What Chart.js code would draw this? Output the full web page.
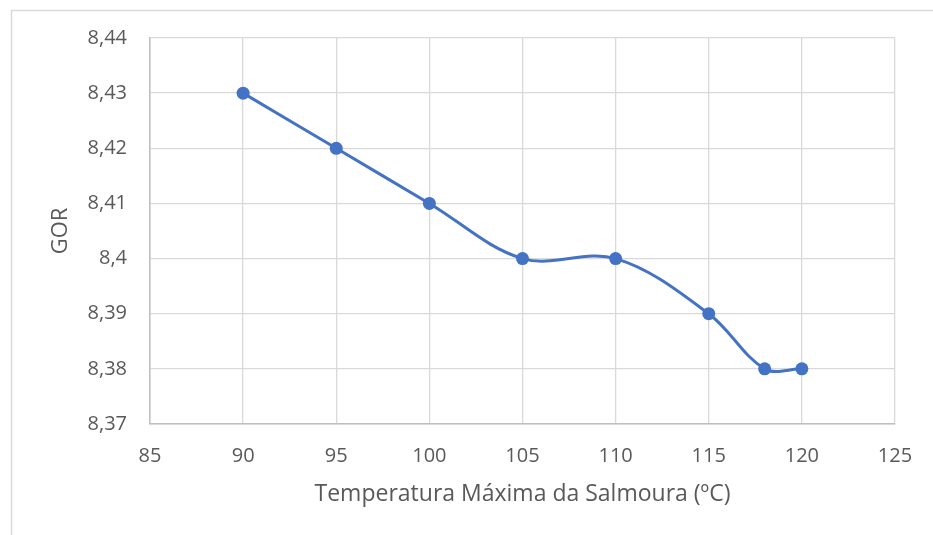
<!DOCTYPE html>
<html>
<head>
<meta charset="utf-8">
<script src="https://cdn.jsdelivr.net/npm/chart.js@4.4.0/dist/chart.umd.min.js"></script>
<style>
  html, body { margin: 0; padding: 0; background: #ffffff; }
  #wrap { position: relative; width: 933px; height: 535px; }
</style>
</head>
<body>
<div id="wrap"><canvas id="chart" width="933" height="535"></canvas></div>
<script>
// Temperatura máxima da salmoura (ºC) and the resulting GOR
const temperaturas = [90, 95, 100, 105, 110, 115, 118, 120];
const gor = [8.43, 8.42, 8.41, 8.40, 8.40, 8.39, 8.38, 8.38];

const xTitulo = 'Temperatura Máxima da Salmoura (ºC)';
const yTitulo = 'GOR';
const xLimites = [85, 125];
const yLimites = [8.37, 8.44];

const azul = '#4472C4';
const texto = '#595959';
const grade = '#d9d9d9';
const eixo = '#bfbfbf';
const familia = "'Open Sans', 'Noto Sans', sans-serif";
const fonteTicks = { family: familia, size: 20 };
const fonteTituloX = { family: familia, size: 23 };
const fonteTituloY = { family: familia, size: 22 };

// Comma decimal separator, no trailing zeros (8,4 instead of 8,40)
function virgula(v) {
  return String(Number(v.toFixed(2))).replace('.', ',');
}

// Light frame of the chart area (left and top edges visible)
const moldura = {
  id: 'moldura',
  beforeDraw(chart) {
    const ctx = chart.ctx;
    ctx.save();
    ctx.strokeStyle = '#d9d9d9';
    ctx.lineWidth = 1.5;
    ctx.strokeRect(11.5, 10.5, 1000, 600);
    ctx.restore();
  }
};

new Chart(document.getElementById('chart'), {
  type: 'line',
  data: {
    datasets: [{
      data: temperaturas.map((t, i) => ({ x: t, y: gor[i] })),
      borderColor: azul,
      backgroundColor: azul,
      borderWidth: 3,
      pointRadius: 6.5,
      pointHoverRadius: 6.5,
      pointBorderWidth: 0,
      tension: 0.35,
      fill: false
    }]
  },
  options: {
    responsive: false,
    animation: false,
    layout: { padding: { left: 0, top: 38, right: 38, bottom: 0 } },
    plugins: { legend: { display: false }, tooltip: { enabled: false } },
    scales: {
      x: {
        type: 'linear',
        min: xLimites[0],
        max: xLimites[1],
        ticks: { stepSize: 5, color: texto, font: fonteTicks, padding: 20, maxRotation: 0 },
        grid: { color: grade, lineWidth: 1.3, drawTicks: false },
        border: { color: eixo, width: 1.5 },
        title: { display: true, text: xTitulo, color: texto, font: fonteTituloX, padding: { top: 0, bottom: 27 } },
        afterFit(scale) { scale.height = 111; }
      },
      y: {
        type: 'linear',
        min: yLimites[0],
        max: yLimites[1],
        ticks: { stepSize: 0.01, color: texto, font: fonteTicks, padding: 23, callback: virgula },
        grid: { color: grade, lineWidth: 1.3, drawTicks: false },
        border: { color: eixo, width: 1.5 },
        title: { display: true, text: yTitulo, color: texto, font: fonteTituloY, padding: { top: 48, bottom: 0 } },
        afterFit(scale) { scale.width = 150; }
      }
    }
  },
  plugins: [moldura]
});
</script>
</body>
</html>
